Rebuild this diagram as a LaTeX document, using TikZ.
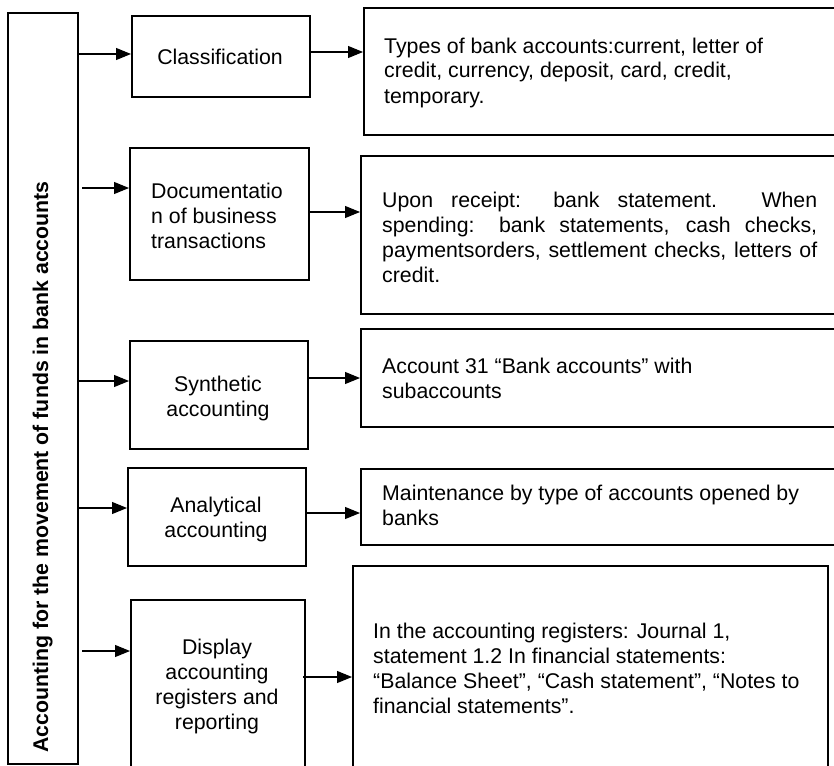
\documentclass[tikz,border=0pt]{standalone}
\usepackage{fontspec}
\setmainfont{Liberation Sans}
\usetikzlibrary{arrows.meta}
\tikzset{
  box/.style={draw, line width=2pt, inner sep=0pt, anchor=north west},
  txt/.style={inner sep=0pt, align=left, anchor=base west},
  ctxt/.style={inner sep=0pt, align=center, anchor=base},
  arr/.style={line width=1.1pt, -{Triangle[length=15pt,width=12pt]}}
}
\begin{document}
\begin{tikzpicture}[x=1pt,y=-1pt,font=\fontsize{21.3pt}{25pt}\selectfont]
\useasboundingbox (0,0) rectangle (834,765);
\clip (0,0) rectangle (834,765);
% left column
\node[box, minimum width=70pt, minimum height=751pt] (L) at (7,12) {};
\node[inner sep=0pt, anchor=base, rotate=90, font=\fontsize{21.3pt}{25pt}\selectfont\bfseries] (Lt) at (48,467) {Accounting for the movement of funds in bank accounts};
% middle boxes
\node[box, minimum width=178pt, minimum height=81pt] (cls) at (131,15) {};
\node[box, minimum width=179pt, minimum height=132pt] (doc) at (129,147) {};
\node[box, minimum width=178pt, minimum height=108pt] (syn) at (129,340) {};
\node[box, minimum width=178pt, minimum height=98pt] (ana) at (127,467) {};
\node[box, minimum width=174pt, minimum height=175pt] (dis) at (130,599) {};
% (text anchors are at the baseline of the last line)
\node[ctxt] (clst) at (220,65) {Classification};
\node[txt] (doct) at (151,248) {Documentatio\\n of business\\transactions};
\node[ctxt] (synt) at (218,416) {Synthetic\\accounting};
\node[ctxt] (anat) at (216,537) {Analytical\\accounting};
\node[ctxt] (dist) at (217,729) {Display\\accounting\\registers and\\reporting};
% right boxes
\node[box, minimum width=477pt, minimum height=127pt] (t1) at (363,7) {};
\node[box, minimum width=480pt, minimum height=158pt] (t2) at (360,155) {};
\node[box, minimum width=480pt, minimum height=98pt] (t3) at (360,328) {};
\node[box, minimum width=480pt, minimum height=76pt] (t4) at (360,468) {};
\node[box, minimum width=475pt, minimum height=215pt] (t5) at (352,565) {};
\node[txt] (t1t) at (384,103) {Types of bank accounts:current, letter of\\credit, currency, deposit, card, credit,\\temporary.};
\node[txt] (t2t) at (382,282) {\hbox to 435pt{Upon receipt: bank statement. When}\\\hbox to 435pt{spending: bank statements, cash checks,}\\\hbox to 435pt{paymentsorders, settlement checks, letters of}\\credit.};
\node[txt] (t3t) at (382,398) {Account 31 “Bank accounts” with\\subaccounts};
\node[txt] (t4t) at (382,525) {Maintenance by type of accounts opened by\\banks};
\node[txt] (t5t) at (373,713) {In the accounting registers: Journal 1,\\statement 1.2 In financial statements:\\“Balance Sheet”, “Cash statement”, “Notes to\\financial statements”.};
% connector levels
\coordinate (y1) at (0,54);
\coordinate (y2) at (0,52);
\coordinate (y3) at (0,188);
\coordinate (y4) at (0,212);
\coordinate (y5) at (0,381);
\coordinate (y6) at (0,378);
\coordinate (y7) at (0,508);
\coordinate (y8) at (0,513);
\coordinate (y9) at (0,651);
\coordinate (y10) at (0,677);
% connectors
\draw[arr] (L.east |- y1) -- (cls.west |- y1);
\draw[arr] (cls.east |- y2) -- (t1.west |- y2);
\draw[arr] ([xshift=3pt]L.east |- y3) -- (doc.west |- y3);
\draw[arr] (doc.east |- y4) -- (t2.west |- y4);
\draw[arr] (L.east |- y5) -- (syn.west |- y5);
\draw[arr] (syn.east |- y6) -- (t3.west |- y6);
\draw[arr] (L.east |- y7) -- (ana.west |- y7);
\draw[arr] (ana.east |- y8) -- (t4.west |- y8);
\draw[arr] ([xshift=3pt]L.east |- y9) -- (dis.west |- y9);
\draw[arr] ([xshift=-3pt]dis.east |- y10) -- (t5.west |- y10);
\end{tikzpicture}
\end{document}
